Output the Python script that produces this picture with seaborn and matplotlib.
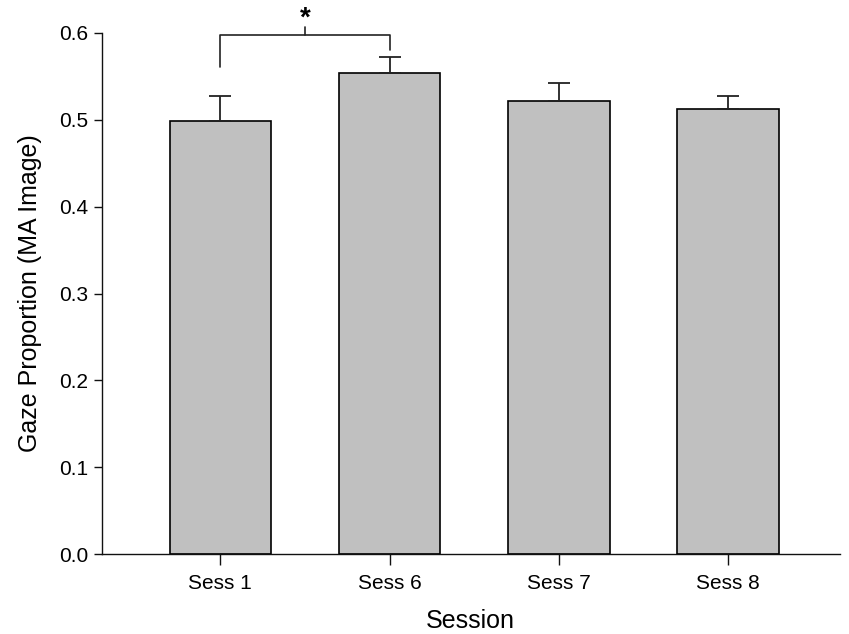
import matplotlib
matplotlib.use("Agg")
import matplotlib.pyplot as plt
import seaborn as sns
import pandas as pd
import numpy as np

sessions = ["Sess 1", "Sess 6", "Sess 7", "Sess 8"]
means = [0.499, 0.554, 0.522, 0.513]
sems = [0.028, 0.018, 0.020, 0.014]

df = pd.DataFrame({"Session": sessions, "Gaze": means})

sns.set_theme(style="ticks")
plt.rcParams["font.family"] = ["Liberation Sans", "DejaVu Sans"]

fig = plt.figure(figsize=(8.49, 6.34), dpi=100)
ax = fig.add_axes([0.120, 0.126, 0.869, 0.822])

sns.barplot(data=df, x="Session", y="Gaze", color="#c0c0c0", width=0.6,
            edgecolor="black", linewidth=1.2, saturation=1, ax=ax, errorbar=None)

# upward-only error bars
ax.errorbar(np.arange(len(sessions)), means, yerr=[np.zeros(len(sems)), sems],
            fmt="none", ecolor="#222222", elinewidth=1.3, capsize=8, capthick=1.3,
            zorder=1)

ax.set_ylim(0, 0.6)
ax.set_xlim(-0.70, 3.66)
ax.set_yticks(np.arange(0, 0.61, 0.1))
ax.set_yticklabels([f"{v:.1f}" for v in np.arange(0, 0.61, 0.1)])
ax.tick_params(axis="y", length=6, width=1, labelsize=15, colors="#111111",
               labelcolor="black", pad=4)
ax.tick_params(axis="x", length=8, width=1, labelsize=15, colors="#111111",
               labelcolor="black", pad=6)
for s in ["top", "right"]:
    ax.spines[s].set_visible(False)
for s in ["left", "bottom"]:
    ax.spines[s].set_linewidth(1)
    ax.spines[s].set_color("#111111")

ax.set_xlabel("Session", fontsize=18, labelpad=12, color="black")
ax.set_ylabel("Gaze Proportion (MA Image)", fontsize=18, labelpad=12, color="black")

# significance bracket between Sess 1 and Sess 6
x1, x2 = 0, 1
yb = 0.598
ax.plot([x1, x1, x2, x2], [0.561, yb, yb, 0.580], color="#222222", lw=1.2,
        clip_on=False)
xm = (x1 + x2) / 2
ax.plot([xm, xm], [yb, 0.607], color="#222222", lw=1.2, clip_on=False)
ax.text(xm, 0.601, "*", ha="center", va="bottom", fontsize=20,
        fontweight="bold", color="black", clip_on=False)

fig.savefig("out.png", dpi=100)
